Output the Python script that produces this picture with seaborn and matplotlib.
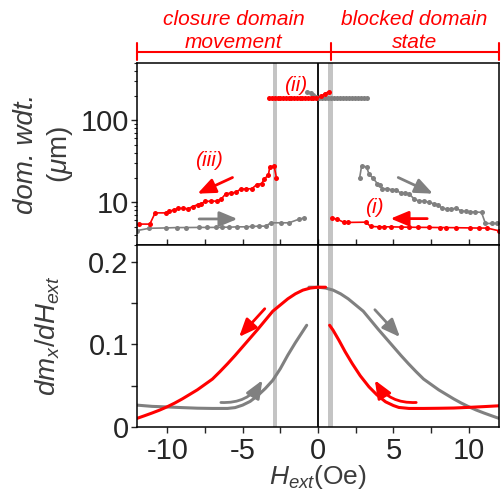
import matplotlib
matplotlib.use("Agg")
import matplotlib.pyplot as plt
import matplotlib.transforms as mtransforms
from matplotlib.ticker import LogLocator, NullFormatter, MultipleLocator, FixedLocator
import seaborn as sns

# ---------------- data ----------------
# domain width (um) vs external field (Oe)
red_iii_h = [-11.85, -11.15, -10.8, -10.1, -9.87, -9.54, -9.25, -8.94, -8.59, -8.32, -7.99, -7.77,
             -7.48, -7.1, -6.73, -6.44, -6.11, -5.78, -5.45, -5.12, -4.79, -4.39, -4.06, -3.73,
             -3.58, -3.29, -3.2, -2.91, -2.76]
red_iii_w = [5.4, 5.4, 7.4, 7.4, 7.7, 8.1, 8.4, 8.4, 8.3, 8.85, 9.3, 9.55,
             10.2, 10.3, 10.3, 10.8, 12.7, 12.9, 13.2, 14.5, 14.5, 14.6, 16.4, 16.9,
             19.1, 21.4, 26.9, 27.5, 20.0]

gray_lo_h = [-12.0, -11.19, -10.09, -9.32, -8.76, -7.88, -7.33, -6.78, -6.34, -5.89, -5.34,
             -4.79, -4.35, -3.91, -3.46, -3.13, -2.47, -1.92, -1.26, -0.93]
gray_lo_w = [4.5, 4.8, 4.85, 4.9, 4.9, 4.92, 4.92, 4.92, 4.95, 4.95, 5.0,
             5.0, 5.05, 5.1, 5.1, 5.6, 5.6, 5.6, 6.2, 6.4]

red_ii_h = [-3.24, -3.05, -2.87, -2.68, -2.5, -2.32, -2.13, -1.95, -1.76, -1.58, -1.4, -1.21,
            -1.03, -0.85, -0.66, -0.48, -0.3, -0.12, 0.2, 0.45, 0.7]
red_ii_w = [187, 187, 187, 187, 187, 187, 187, 187, 187, 187, 187, 187,
            187, 187, 187, 187, 187, 187, 195, 212, 222]

gray_ii_h = [-0.7, -0.45, -0.3, -0.12, 0.07, 0.27, 0.47, 0.67, 0.87, 1.07, 1.27, 1.47, 1.67,
             1.87, 2.07, 2.27, 2.47, 2.67, 2.87, 3.07, 3.25]
gray_ii_w = [222, 216, 205, 193, 187, 187, 187, 187, 187, 187, 187, 187, 187,
             187, 187, 187, 187, 187, 187, 187, 187]

gray_hi_h = [2.76, 2.89, 3.22, 3.38, 3.66, 3.93, 4.11, 4.26, 4.59, 4.88, 5.15, 5.48, 5.76, 6.03,
             6.36, 6.69, 7.02, 7.35, 7.68, 7.97, 8.23, 8.52, 8.85, 9.16, 9.45, 9.78, 10.11,
             10.44, 10.84, 11.1, 11.54, 11.88]
gray_hi_w = [19.8, 27.6, 27.0, 22.0, 19.5, 16.9, 16.2, 14.6, 14.6, 14.2, 14.2, 12.9, 12.9, 12.7,
             11.0, 10.3, 10.3, 10.0, 9.55, 9.3, 8.4, 8.3, 8.3, 8.4, 7.9, 7.7, 7.6,
             7.6, 7.5, 5.5, 5.5, 5.5]

red_i_h = [0.9, 1.28, 1.72, 2.0, 3.16, 3.49, 4.04, 4.37, 4.81, 5.48, 6.03, 6.64, 7.35, 8.12,
           8.46, 9.12, 10.11, 10.66, 11.21, 12.0]
red_i_w = [6.4, 6.2, 5.66, 5.66, 5.7, 5.06, 5.0, 5.0, 5.0, 4.97, 4.95, 4.93, 4.92, 4.9,
           4.9, 4.88, 4.85, 4.83, 4.83, 4.47]

# susceptibility dm_x/dH_ext vs external field
red_big_h = [-12, -11.5, -11, -10.5, -10, -9.5, -9, -8.5, -8, -7.5, -7, -6.5, -6, -5.5, -5, -4.5,
             -4, -3.5, -3, -2.5, -2, -1.5, -1, -0.5, 0, 0.5]
red_big_v = [0.0105, 0.0137, 0.017, 0.0205, 0.0245, 0.029, 0.034, 0.0395, 0.045, 0.0515, 0.058,
             0.067, 0.0765, 0.0865, 0.097, 0.1075, 0.118, 0.129, 0.14, 0.1475, 0.155, 0.161,
             0.1655, 0.168, 0.169, 0.169]

gray_big_h = [-0.6, 0, 0.5, 1, 1.5, 2, 2.5, 3, 3.5, 4, 4.5, 5, 5.5, 6, 6.5, 7, 7.5, 8, 8.5, 9,
              9.5, 10, 10.5, 11, 11.5, 12]
gray_big_v = [0.169, 0.169, 0.168, 0.1655, 0.161, 0.155, 0.1475, 0.14, 0.129, 0.118, 0.1075,
              0.097, 0.0865, 0.0765, 0.067, 0.058, 0.0515, 0.045, 0.0395, 0.034, 0.029, 0.0245,
              0.0205, 0.017, 0.0137, 0.0105]

gray_small_h = [-12, -11, -10, -9, -8, -7, -6, -5.5, -5, -4.5, -4, -3.5, -3, -2.5, -2, -1.5, -1,
                -0.75]
gray_small_v = [0.0265, 0.025, 0.0243, 0.0235, 0.0228, 0.0225, 0.0225, 0.0235, 0.0265, 0.031,
                0.038, 0.0465, 0.0565, 0.0705, 0.087, 0.102, 0.116, 0.123]

red_small_h = [0.77, 1.0, 1.39, 1.8, 2.27, 2.8, 3.38, 3.9, 4.48, 5.0, 5.36, 6.03, 7, 8, 9, 10, 11,
               12]
red_small_v = [0.123, 0.117, 0.1048, 0.091, 0.0767, 0.062, 0.0486, 0.039, 0.0305, 0.026, 0.0237,
               0.0225, 0.0225, 0.0227, 0.023, 0.0238, 0.0247, 0.0257]

x_ticks = [-10, -5, 0, 5, 10]
x_tick_labels = ["-10", "-5", "0", "5", "10"]
w_ticks = [10, 100]
w_tick_labels = ["10", "100"]
s_ticks = [0, 0.1, 0.2]
s_tick_labels = ["0", "0.1", "0.2"]

RED = "#ff0000"
GRAY = "#808080"
BAND = "#c4c4c4"
LABEL = "#3c3c3c"

# ---------------- style ----------------
sns.set_style("ticks")
plt.rcParams["font.family"] = ["Liberation Sans", "DejaVu Sans"]
plt.rcParams["mathtext.fontset"] = "custom"
plt.rcParams["mathtext.rm"] = "Liberation Sans"
plt.rcParams["mathtext.it"] = "Liberation Sans:italic"
plt.rcParams["axes.unicode_minus"] = False

fig = plt.figure(figsize=(5.01, 4.92), dpi=100)
ax1 = fig.add_axes([0.2735, 0.502, 0.7225, 0.370])
ax2 = fig.add_axes([0.2735, 0.132, 0.7225, 0.370])

for ax in (ax1, ax2):
    ax.set_xlim(-12, 12)
    ax.axvspan(-2.98, -2.69, color=BAND, lw=0, zorder=0)
    ax.axvspan(0.68, 1.0, color=BAND, lw=0, zorder=0)
    ax.axvline(0, color="black", lw=1.3, zorder=1)
    for s in ax.spines.values():
        s.set_linewidth(1.1)
        s.set_color("black")
    ax.xaxis.set_major_locator(FixedLocator(x_ticks))
    ax.xaxis.set_minor_locator(MultipleLocator(2.5))

# ---------------- top panel ----------------
line_kw = dict(estimator=None, sort=False, lw=1.2, marker="o", markersize=3.6,
               markeredgewidth=0, legend=False)
sns.lineplot(x=gray_lo_h, y=gray_lo_w, ax=ax1, color=GRAY, **line_kw)
sns.lineplot(x=red_iii_h, y=red_iii_w, ax=ax1, color=RED, **line_kw)
sns.lineplot(x=gray_ii_h, y=gray_ii_w, ax=ax1, color=GRAY, **line_kw)
sns.lineplot(x=red_ii_h, y=red_ii_w, ax=ax1, color=RED, **line_kw)
sns.lineplot(x=gray_hi_h, y=gray_hi_w, ax=ax1, color=GRAY, **line_kw)
sns.lineplot(x=red_i_h, y=red_i_w, ax=ax1, color=RED, **line_kw)

ax1.set_yscale("log")
ax1.set_ylim(3, 500)
ax1.set_yticks(w_ticks)
ax1.set_yticklabels(w_tick_labels)
ax1.yaxis.set_minor_locator(LogLocator(base=10, subs=range(2, 10)))
ax1.yaxis.set_minor_formatter(NullFormatter())
ax1.tick_params(axis="y", which="major", direction="out", length=4, width=1, labelsize=21, pad=2)
ax1.tick_params(axis="y", which="minor", direction="out", length=2.5, width=0.8)
ax1.tick_params(axis="x", which="both", direction="in", length=4, width=1,
                bottom=True, top=False, labelbottom=False)
ax1.set_xlabel("")
ax1.set_ylabel("")

arrow = lambda c: dict(arrowstyle="-|>,head_length=0.6,head_width=0.25", color=c, lw=2,
                       mutation_scale=18, shrinkA=0, shrinkB=0)
ax1.annotate("", xy=(-7.99, 12.7), xytext=(-5.67, 20.0), arrowprops=arrow(RED))
ax1.annotate("", xy=(-5.34, 6.24), xytext=(-7.88, 6.24), arrowprops=arrow(GRAY))
ax1.annotate("", xy=(7.62, 12.7), xytext=(5.32, 20.0), arrowprops=arrow(GRAY))
ax1.annotate("", xy=(4.81, 6.3), xytext=(7.24, 6.3), arrowprops=arrow(RED))

ax1.text(-7.26, 32.7, "(iii)", color=RED, fontsize=15, fontstyle="italic", ha="center", va="center")
ax1.text(-1.48, 263, "(ii)", color=RED, fontsize=15, fontstyle="italic", ha="center", va="center")
ax1.text(3.71, 8.67, "(i)", color=RED, fontsize=15, fontstyle="italic", ha="center", va="center")

ax1.text(-0.307, 0.5, "dom. wdt.", transform=ax1.transAxes, rotation=90, ha="center",
         va="center", fontsize=20, fontstyle="italic", color=LABEL)
ax1.text(-0.213, 0.5, r"($\mu$m)", transform=ax1.transAxes, rotation=90, ha="center",
         va="center", fontsize=20, color=LABEL)

# regime bracket above the top panel
btr = mtransforms.blended_transform_factory(ax1.transData, ax1.transAxes)
ax1.plot([-12, 12], [1.0604, 1.0604], transform=btr, color=RED, lw=1.5, clip_on=False)
for xv in (-12, 0.85, 12):
    ax1.plot([xv, xv], [1.0165, 1.11], transform=btr, color=RED, lw=1.5, clip_on=False)
bracket_font = dict(transform=btr, color=RED, fontsize=15, fontstyle="italic",
                    ha="center", va="baseline")
ax1.text(-5.6, 1.209, "closure domain", **bracket_font)
ax1.text(-5.6, 1.082, "movement", **bracket_font)
ax1.text(6.4, 1.209, "blocked domain", **bracket_font)
ax1.text(6.4, 1.082, "state", **bracket_font)

# ---------------- bottom panel ----------------
curve_kw = dict(estimator=None, sort=False, lw=2.2, legend=False)
sns.lineplot(x=gray_small_h, y=gray_small_v, ax=ax2, color=GRAY, **curve_kw)
sns.lineplot(x=gray_big_h, y=gray_big_v, ax=ax2, color=GRAY, **curve_kw)
sns.lineplot(x=red_big_h, y=red_big_v, ax=ax2, color=RED, **curve_kw)
sns.lineplot(x=red_small_h, y=red_small_v, ax=ax2, color=RED, **curve_kw)

ax2.set_ylim(0, 0.22)
ax2.set_yticks(s_ticks)
ax2.set_yticklabels(s_tick_labels)
ax2.yaxis.set_minor_locator(MultipleLocator(0.05))
ax2.set_xticks(x_ticks)
ax2.set_xticklabels(x_tick_labels)
ax2.tick_params(axis="both", which="both", direction="out", length=4, width=1)
ax2.tick_params(axis="both", which="major", labelsize=21, pad=2)
ax2.tick_params(axis="x", which="major", pad=3)
ax2.set_xlabel(r"$H_{ext}$(Oe)", fontsize=19, color=LABEL, labelpad=-1)
ax2.set_ylabel("")
ax2.text(-0.246, 0.5, r"$dm_x/dH_{ext}$", transform=ax2.transAxes, rotation=90,
         ha="center", va="center", fontsize=20, color=LABEL)

ax2.annotate("", xy=(-5.23, 0.109), xytext=(-3.53, 0.143), arrowprops=arrow(RED))
ax2.annotate("", xy=(5.43, 0.1088), xytext=(3.77, 0.1418), arrowprops=arrow(GRAY))
ca = arrow(GRAY)
ca["connectionstyle"] = "arc3,rad=0.3"
ax2.annotate("", xy=(-3.69, 0.0566), xytext=(-6.44, 0.0297), arrowprops=ca)
cr = arrow(RED)
cr["connectionstyle"] = "arc3,rad=-0.3"
ax2.annotate("", xy=(3.77, 0.0566), xytext=(6.51, 0.0297), arrowprops=cr)

fig.savefig("out.png", dpi=100)
